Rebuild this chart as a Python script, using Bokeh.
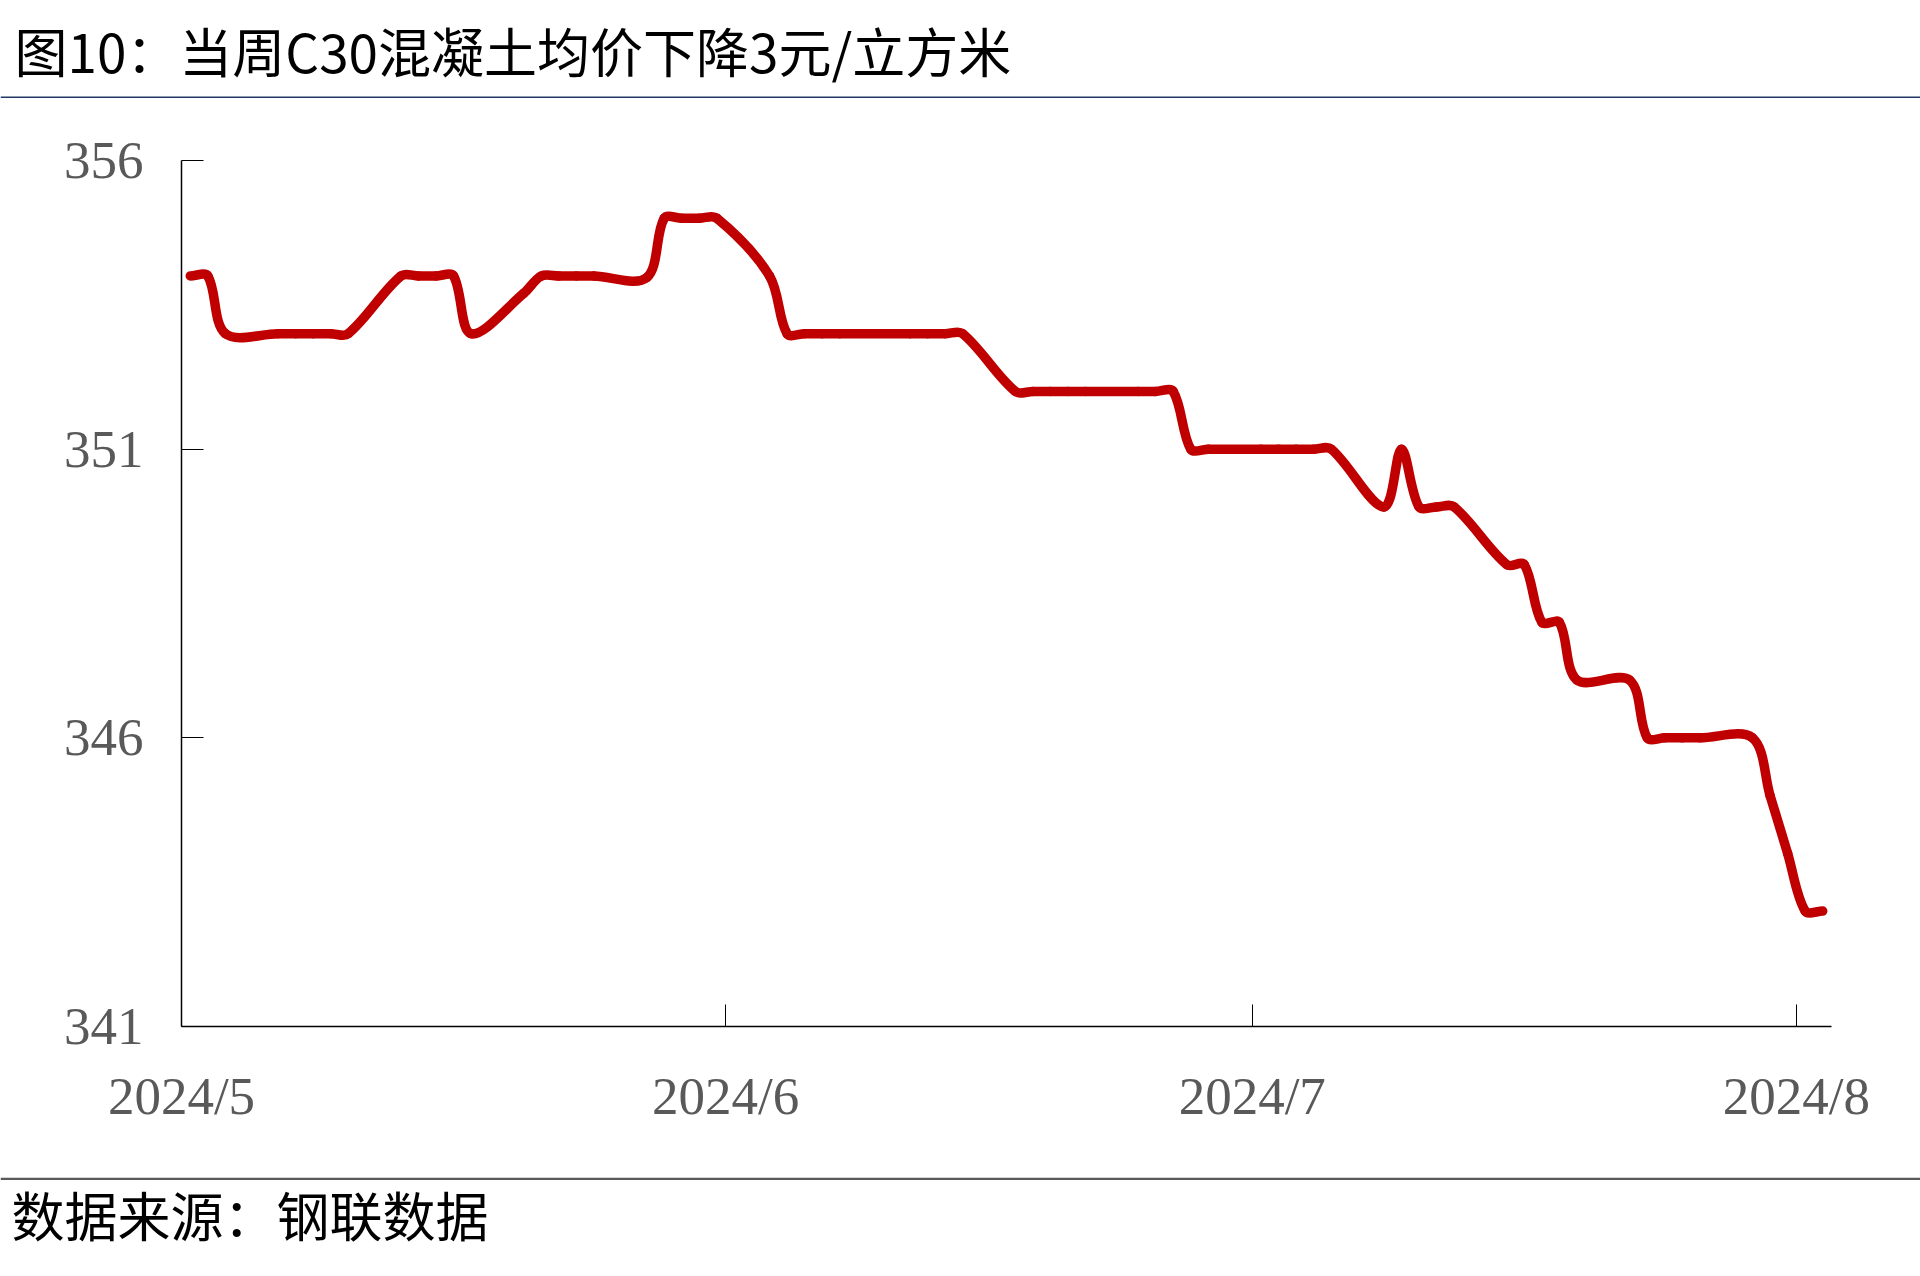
import numpy as np
import pandas as pd
from bokeh.plotting import figure
from bokeh.layouts import column
from bokeh.models import Range1d, FixedTicker, Label, Span
from bokeh.embed import file_html
from bokeh.resources import INLINE

# ---------------- data ----------------
title_text = "图10：当周C30混凝土均价下降3元/立方米"
source_text = "数据来源：钢联数据"

dates = [
    "2024-05-01", "2024-05-02", "2024-05-03", "2024-05-06", "2024-05-07", "2024-05-08",
    "2024-05-09", "2024-05-10", "2024-05-13", "2024-05-14", "2024-05-15", "2024-05-16",
    "2024-05-17", "2024-05-20", "2024-05-21", "2024-05-22", "2024-05-23", "2024-05-24",
    "2024-05-27", "2024-05-28", "2024-05-29", "2024-05-30", "2024-05-31",
    "2024-06-03", "2024-06-04", "2024-06-05", "2024-06-06", "2024-06-07", "2024-06-11",
    "2024-06-12", "2024-06-13", "2024-06-14", "2024-06-17", "2024-06-18", "2024-06-19",
    "2024-06-20", "2024-06-21", "2024-06-24", "2024-06-25", "2024-06-26", "2024-06-27",
    "2024-06-28",
    "2024-07-01", "2024-07-02", "2024-07-03", "2024-07-04", "2024-07-05", "2024-07-08",
    "2024-07-09", "2024-07-10", "2024-07-11", "2024-07-12", "2024-07-15", "2024-07-16",
    "2024-07-17", "2024-07-18", "2024-07-19", "2024-07-22", "2024-07-23", "2024-07-24",
    "2024-07-25", "2024-07-26", "2024-07-29", "2024-07-30", "2024-07-31",
    "2024-08-01", "2024-08-02",
]
prices = [
    354, 354, 353, 353, 353, 353,
    353, 353, 354, 354, 354, 354,
    353, 353.7, 354, 354, 354, 354,
    353.97, 355, 355, 355, 355,
    354, 353, 353, 353, 353, 353,
    353, 353, 353, 352, 352, 352,
    352, 352, 352, 352, 352, 351,
    351,
    351, 351, 351, 351, 351, 350,
    351, 350, 350, 350, 349, 349,
    348, 348, 347, 347, 346, 346,
    346, 346, 346, 345, 344,
    343, 343,
]

y_ticks = [341, 346, 351, 356]
x_tick_dates = ["2024-05-01", "2024-06-01", "2024-07-01", "2024-08-01"]
x_tick_labels = ["2024/5", "2024/6", "2024/7", "2024/8"]
x_start, x_end = "2024-05-01", "2024-08-03"

# ---------------- layout constants (page pixels) ----------------
W = 1920
TOP_H = 98            # title strip: page y 0..98
MAIN_H = 1079         # chart: page y 98..1177
FOOT_H = 91           # source strip: page y 1177..1268
FR_L, FR_R, FR_T, FR_B = 181, 1831, 160, 1026   # plot frame in page pixels
RED = "#C00000"
LABEL_FONT = "Liberation Serif"
CJK_FONT = "Noto Sans CJK SC"


def to_ms(s):
    return pd.Timestamp(s).value / 1e6


def strip(h):
    f = figure(width=W, height=h, x_range=Range1d(0, W), y_range=Range1d(0, h),
               output_backend="svg", toolbar_location=None,
               x_axis_type=None, y_axis_type=None, min_border=0,
               frame_width=W, frame_height=h, outline_line_color=None)
    if "frame_align" in f.properties():
        f.frame_align = False
    f.xgrid.visible = False
    f.ygrid.visible = False
    return f


# ---------------- title strip ----------------
tf = strip(TOP_H)
tf.add_layout(Label(x=14, y=TOP_H - 49, text=title_text, text_font=CJK_FONT,
                    text_font_size="53px", text_baseline="middle",
                    text_color="#000000"))
tf.add_layout(Span(location=1, dimension="width", line_color="#1F3864", line_width=2))

# ---------------- main chart ----------------
x0_ms, x1_ms = to_ms(x_start), to_ms(x_end)
sx = (FR_R - FR_L) / (x1_ms - x0_ms)               # px per ms
sy = (FR_B - FR_T) / (y_ticks[-1] - y_ticks[0])    # px per price unit

p = figure(width=W, height=MAIN_H, x_axis_type="datetime",
           x_range=Range1d(x0_ms, x1_ms),
           y_range=Range1d(y_ticks[0], y_ticks[-1]),
           output_backend="svg", toolbar_location=None,
           min_border_left=FR_L, min_border_right=W - FR_R,
           min_border_top=FR_T - TOP_H, min_border_bottom=TOP_H + MAIN_H - FR_B,
           outline_line_color=None)
if "frame_align" in p.properties():
    p.frame_align = False
p.xgrid.visible = False
p.ygrid.visible = False

# smooth (chord-scaled Catmull-Rom) rendering of the series
xs = np.array([to_ms(d) + 12 * 3600 * 1000 for d in dates])
ys = np.array(prices, dtype=float)
n = len(xs)
PX = np.concatenate([[xs[0]], xs, [xs[-1]]])
PY = np.concatenate([[ys[0]], ys, [ys[-1]]])
seg = np.hypot(np.diff(PX) * sx, np.diff(PY) * sy)
S = 1.0 / 3.0
bx0, by0, bx1, by1, cx0, cy0, cx1, cy1 = [], [], [], [], [], [], [], []
for i in range(n - 1):
    k = i + 1
    d_prev, d_cur, d_next = seg[k - 1], seg[k], seg[k + 1]
    f0 = S * d_cur / (d_prev + d_cur) if (d_prev + d_cur) > 0 else 0
    f1 = S * d_cur / (d_cur + d_next) if (d_cur + d_next) > 0 else 0
    bx0.append(PX[k]); by0.append(PY[k])
    bx1.append(PX[k + 1]); by1.append(PY[k + 1])
    cx0.append(PX[k] + (PX[k + 1] - PX[k - 1]) * f0)
    cy0.append(PY[k] + (PY[k + 1] - PY[k - 1]) * f0)
    cx1.append(PX[k + 1] - (PX[k + 2] - PX[k]) * f1)
    cy1.append(PY[k + 1] - (PY[k + 2] - PY[k]) * f1)

p.bezier(x0=bx0, y0=by0, x1=bx1, y1=by1, cx0=cx0, cy0=cy0, cx1=cx1, cy1=cy1,
         line_color=RED, line_width=9.5, line_cap="round")

tick_ms = [to_ms(d) for d in x_tick_dates]
p.xaxis.ticker = FixedTicker(ticks=tick_ms)
p.xaxis.major_label_overrides = {t: lab for t, lab in zip(tick_ms, x_tick_labels)}
p.yaxis.ticker = FixedTicker(ticks=y_ticks)

for ax in (p.xaxis, p.yaxis):
    ax.axis_line_color = "#000000"
    ax.axis_line_width = 1.5
    ax.major_tick_line_color = "#000000"
    ax.major_tick_line_width = 1
    ax.major_tick_in = 22
    ax.major_tick_out = 0
    ax.minor_tick_line_color = None
    ax.major_label_text_font = LABEL_FONT
    ax.major_label_text_font_size = "53px"
    ax.major_label_text_color = "#595959"
p.xaxis.major_label_standoff = 40
p.yaxis.major_label_standoff = 38

# ---------------- source strip ----------------
ff = strip(FOOT_H)
ff.add_layout(Span(location=FOOT_H - 1.2, dimension="width", line_color="#595959",
                   line_width=2.5))
ff.add_layout(Label(x=11, y=FOOT_H - 36, text=source_text, text_font=CJK_FONT,
                    text_font_size="53px", text_baseline="middle",
                    text_color="#000000"))

layout = column(tf, p, ff, spacing=0)
open("out.html", "w").write(file_html(layout, INLINE))
